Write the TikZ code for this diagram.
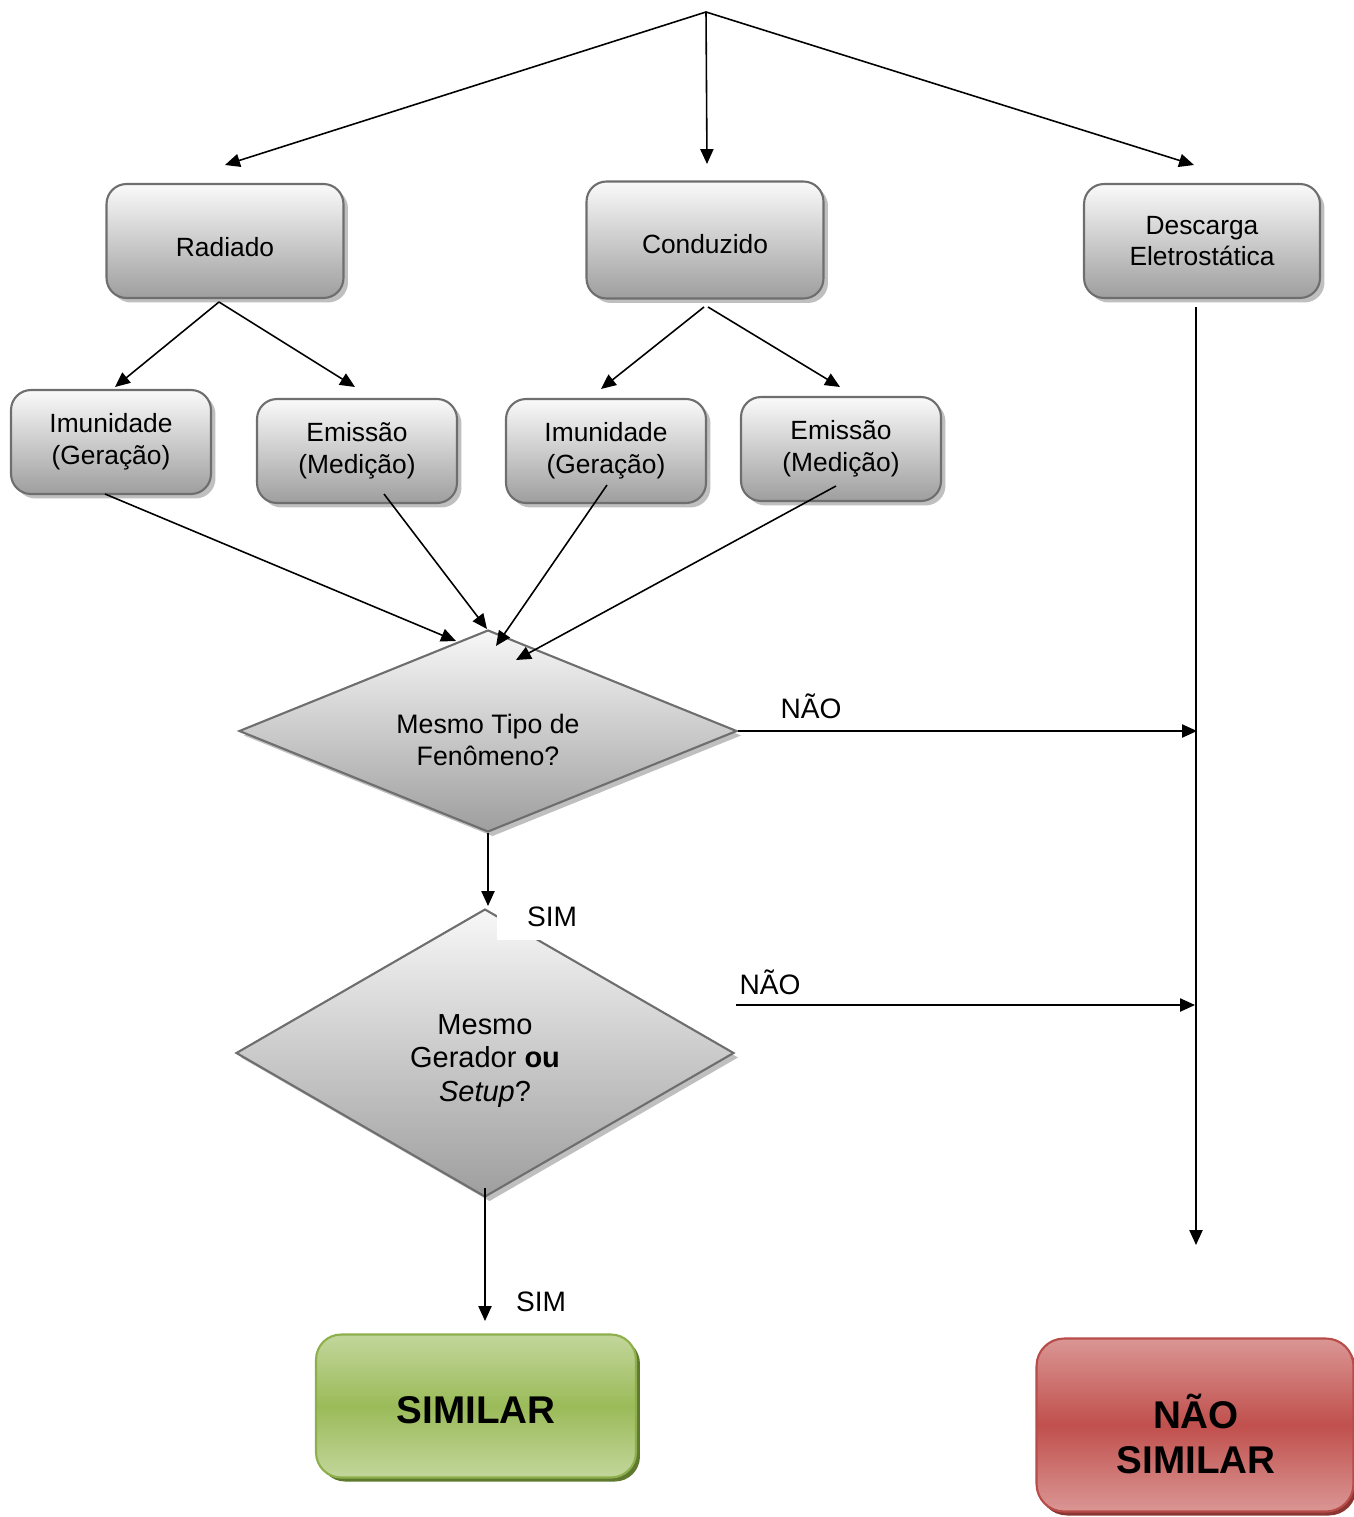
\documentclass[tikz,border=0pt]{standalone}
\usepackage{fontspec}
\setmainfont{Liberation Sans}
\usetikzlibrary{shapes.geometric,shadows,arrows.meta,calc}
\definecolor{bord}{HTML}{6E6E6E}
\definecolor{simtop}{HTML}{C2D69B}
\definecolor{simmid}{HTML}{9BBB59}
\definecolor{simbord}{HTML}{8DAF4C}
\definecolor{simshad}{HTML}{5F7A2E}
\definecolor{nsimtop}{HTML}{DA9694}
\definecolor{nsimmid}{HTML}{C0504D}
\definecolor{nsimbord}{HTML}{B84C49}
\definecolor{nsimshad}{HTML}{8C3634}
\begin{document}
\begin{tikzpicture}[x=0.02cm,y=-0.02cm,
  conn/.style={line width=0.9pt,-{Triangle[length=8.5pt,width=7.5pt]}},
  graybox/.style={rectangle, rounded corners=0.4cm, draw=bord, line width=1.2pt,
    top color=black!2, bottom color=black!38,
    drop shadow={shadow xshift=0.09cm, shadow yshift=-0.09cm, fill=black!25, opacity=1},
    align=center, font=\fontsize{15}{18}\selectfont, inner sep=0pt},
  bigbox/.style={graybox, minimum width=4.74cm, minimum height=2.3cm},
  smallbox/.style={graybox, minimum width=4.0cm, minimum height=2.08cm},
  decision/.style={diamond, draw=bord, line width=1.2pt,
    top color=black!3, bottom color=black!38,
    drop shadow={shadow xshift=0.09cm, shadow yshift=-0.09cm, fill=black!25, opacity=1},
    inner sep=0pt, minimum width=9.96cm},
  dtext/.style={align=center, inner sep=0pt},
  lbl/.style={font=\fontsize{16}{19}\selectfont, inner sep=0pt},
  result/.style={rectangle, line width=1.2pt, inner sep=0pt},
  rtext/.style={align=center, inner sep=0pt, font=\fontsize{22}{26}\selectfont\bfseries}
]
\useasboundingbox (0,0) rectangle (1354,1517);

% top boxes
\node[bigbox, minimum height=2.28cm] (rad) at (225,241) {\raisebox{-0.13cm}[\height][\depth]{Radiado}};
\node[bigbox, minimum height=2.34cm] (con) at (705,240) {\raisebox{-0.09cm}[\height][\depth]{Conduzido}};
\node[bigbox, minimum width=4.72cm, minimum height=2.28cm] (esd) at (1202,241) {Descarga\\Eletrostática};

% second row
\node[smallbox] (im1) at (111,442) {Imunidade\\(Geração)};
\node[smallbox] (em1) at (357,451) {Emissão\\(Medição)};
\node[smallbox] (im2) at (606,451) {Imunidade\\(Geração)};
\node[smallbox] (em2) at (841,449) {Emissão\\(Medição)};

% decisions
\node[decision, shape aspect=2.5, minimum height=4.04cm] (d1) at (488,731) {};
\node[dtext, font=\fontsize{15.2}{18}\selectfont] (d1t) at (488,740) {Mesmo Tipo de\\Fenômeno?};
\node[decision, shape aspect=1.7, minimum height=5.76cm] (d2) at (485,1053) {};
\node[dtext, font=\fontsize{16.5}{19}\selectfont] (d2t) at (485,1061) {Mesmo\\Gerador \textbf{ou}\\\textit{Setup}?};

% results
\node[result, rounded corners=0.5cm, draw=simbord, top color=simtop, bottom color=simtop, middle color=simmid,
  drop shadow={shadow xshift=0.08cm, shadow yshift=-0.08cm, fill=simshad, opacity=1},
  minimum width=6.4cm, minimum height=2.86cm] (sim) at (476,1406) {};
\node[rtext] (simt) at (476,1410) {SIMILAR};
\node[result, rounded corners=0.55cm, draw=nsimbord, top color=nsimtop, bottom color=nsimtop, middle color=nsimmid,
  drop shadow={shadow xshift=0.06cm, shadow yshift=-0.08cm, fill=nsimshad, opacity=1},
  minimum width=6.34cm, minimum height=3.46cm] (nsim) at (1195,1425) {};
\node[rtext] (nsimt) at (1196,1434) {NÃO\\SIMILAR};

% coordinates
\coordinate (top) at (706,12);
\coordinate (a1) at (225,165);
\coordinate (a2) at (707,164);
\coordinate (a3) at (1194,165);
\coordinate (rs) at (219,302);
\coordinate (r1) at (115,387);
\coordinate (r2) at (355,387);
\coordinate (cs1) at (704,307);
\coordinate (cs2) at (708,307);
\coordinate (c1) at (601,389);
\coordinate (c2) at (840,387);
\coordinate (s1) at (105,494);
\coordinate (s2) at (384,494);
\coordinate (s3) at (607,485);
\coordinate (s4) at (836,486);
\coordinate (e1) at (456,641);
\coordinate (e2) at (487,629);
\coordinate (e3) at (496,646);
\coordinate (e4) at (516,660);
\coordinate (n1) at (1197,731);
\coordinate (y1) at (488,906);
\coordinate (esds) at (1196,307);
\coordinate (esde) at (1196,1245);
\coordinate (n2s) at (736,1005);
\coordinate (n2) at (1195,1005);
\coordinate (y2s) at (485,1188);
\coordinate (y2) at (485,1321);

% connectors
\draw[conn] (top) -- (a1);
\draw[conn] (top) -- (a2);
\draw[conn] (top) -- (a3);
\draw[conn] (rs) -- (r1);
\draw[conn] (rs) -- (r2);
\draw[conn] (cs1) -- (c1);
\draw[conn] (cs2) -- (c2);
\draw[conn] (s1) -- (e1);
\draw[conn] (s2) -- (e2);
\draw[conn] (s3) -- (e3);
\draw[conn] (s4) -- (e4);
\draw[conn] (d1.east) -- (n1);
\draw[conn] (d1.south) -- (y1);
\draw[conn] (esds) -- (esde);
\draw[conn] (n2s) -- (n2);
\draw[conn] (y2s) -- (y2);

% labels
\node[lbl] (lno1) at (811,706) {NÃO};
\node[lbl, fill=white, minimum width=2.2cm, minimum height=0.9cm] (lsim1) at (552,917) {SIM};
\node[lbl] (lno2) at (770,982) {NÃO};
\node[lbl] (lsim2) at (541,1302) {SIM};
\end{tikzpicture}
\end{document}
